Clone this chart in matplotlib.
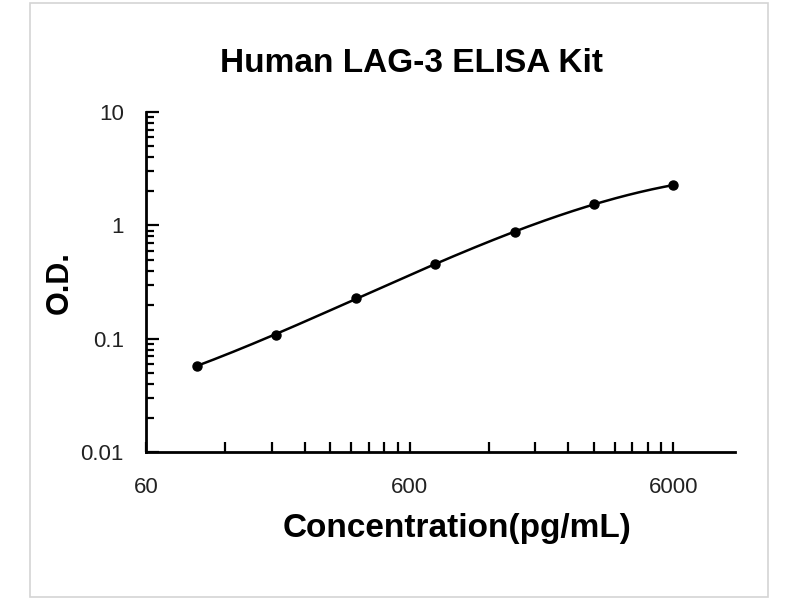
import numpy as np
import matplotlib.pyplot as plt
from matplotlib.ticker import LogLocator, FixedLocator, NullFormatter
from matplotlib.patches import Rectangle

# Standard curve values
conc = [93.75, 187.5, 375, 750, 1500, 3000, 6000]
od = [0.058, 0.108, 0.230, 0.457, 0.867, 1.55, 2.27]

x_ticks = [60, 600, 6000]
x_ticklabels = ["60", "600", "6000"]
y_ticks = [0.01, 0.1, 1, 10]
y_ticklabels = ["0.01", "0.1", "1", "10"]

plt.rcParams['font.family'] = ['Liberation Sans', 'DejaVu Sans']

fig = plt.figure(figsize=(8, 6), dpi=100)
ax = fig.add_axes([0.1825, 0.2467, 0.7365, 0.5663])

# smooth fitted line in log-log space
lx = np.log10(conc)
ly = np.log10(od)
coef = np.polyfit(lx, ly, 3)
xs = np.linspace(lx[0], lx[-1], 200)
ax.plot(10 ** xs, 10 ** np.polyval(coef, xs), color='black', lw=1.8)
ax.plot(conc, od, 'o', color='black', ms=6.5)

ax.set_xscale('log')
ax.set_yscale('log')
ax.set_xlim(60, 10300)
ax.set_ylim(0.01, 10)

ax.xaxis.set_major_locator(FixedLocator(x_ticks))
ax.set_xticklabels(x_ticklabels)
minor_x = [m * d for d in [60, 600] for m in range(2, 10)]
ax.xaxis.set_minor_locator(FixedLocator(minor_x))
ax.xaxis.set_minor_formatter(NullFormatter())

ax.yaxis.set_major_locator(FixedLocator(y_ticks))
ax.set_yticklabels(y_ticklabels)
ax.yaxis.set_minor_locator(LogLocator(base=10, subs=np.arange(2, 10)))
ax.yaxis.set_minor_formatter(NullFormatter())

for s in ['top', 'right']:
    ax.spines[s].set_visible(False)
for s in ['left', 'bottom']:
    ax.spines[s].set_linewidth(2)

ax.tick_params(which='both', direction='in', width=1.6, color='black')
ax.tick_params(axis='y', which='major', length=9, pad=16, labelsize=16)
ax.tick_params(axis='y', which='minor', length=6)
ax.tick_params(axis='x', which='both', length=7)
ax.tick_params(axis='x', which='major', pad=18, labelsize=16)
for lab in ax.get_xticklabels() + ax.get_yticklabels():
    lab.set_color('#222222')

ax.set_xlabel("Concentration(pg/mL)", fontsize=24, fontweight='bold', labelpad=11)
ax.xaxis.label.set_x(0.528)
ax.set_ylabel("O.D.", fontsize=22, fontweight='bold', labelpad=4)
fig.text(0.514, 0.895, "Human LAG-3 ELISA Kit", fontsize=24, fontweight='bold',
         ha='center', va='center')

# faint frame around the picture
fig.patches.append(Rectangle((0.037, 0.005), 0.923, 0.99, transform=fig.transFigure,
                             fill=False, edgecolor='#d4d4d4', lw=1.2))

fig.savefig("out.png", dpi=100)
